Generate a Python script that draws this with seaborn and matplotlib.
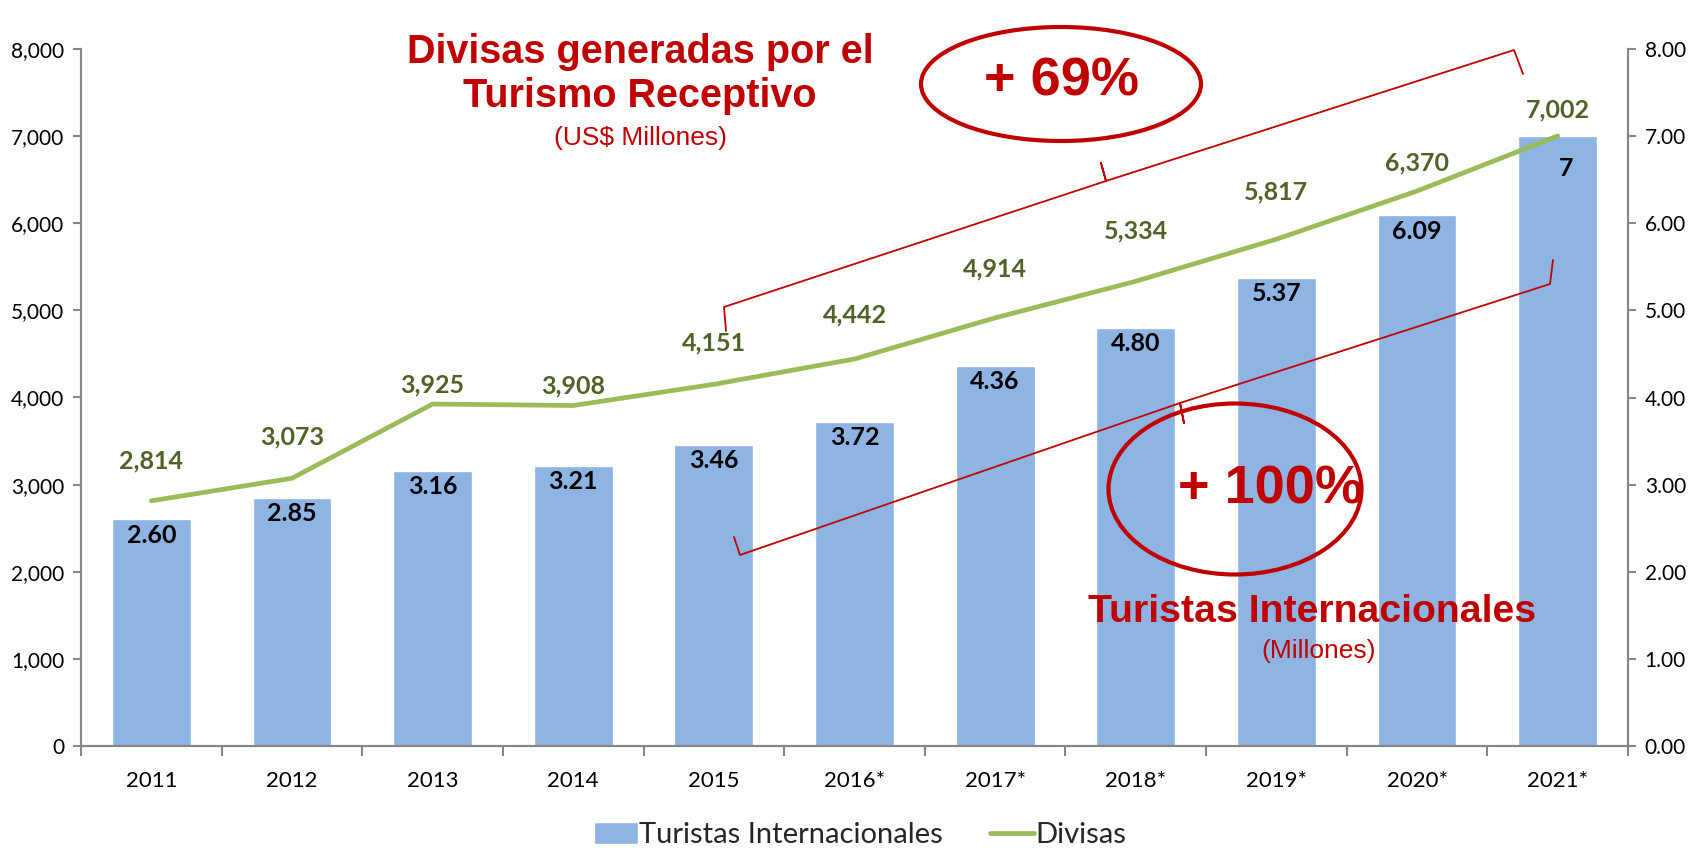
import numpy as np
import pandas as pd
import matplotlib
matplotlib.use("Agg")
import matplotlib.pyplot as plt
from matplotlib.patches import Ellipse
from matplotlib.lines import Line2D
import seaborn as sns

# ---------------- data ----------------
years = ["2011", "2012", "2013", "2014", "2015", "2016*", "2017*", "2018*", "2019*", "2020*", "2021*"]
turistas = [2.60, 2.85, 3.16, 3.21, 3.46, 3.72, 4.36, 4.80, 5.37, 6.09, 7.00]
turistas_lbl = ["2.60", "2.85", "3.16", "3.21", "3.46", "3.72", "4.36", "4.80", "5.37", "6.09", "7"]
divisas = [2814, 3073, 3925, 3908, 4151, 4442, 4914, 5334, 5817, 6370, 7002]
left_ticks = [0, 1000, 2000, 3000, 4000, 5000, 6000, 7000, 8000]
right_ticks = [0, 1, 2, 3, 4, 5, 6, 7, 8]

# styling
BAR = "#8EB4E3"
LINE = "#9BBB59"
LBL_GREEN = "#4F6228"
RED = "#C00000"
AX_GRAY = "#868686"
lbl_off = [29, 30, 14, 14, 30, 32, 35, 36, 34, 20, 19]          # line label offsets (pt)
bar_off = [(0, -3)] * 10 + [(6, -15)]                             # bar label offsets (pt)

sns.set_theme(style="white")
plt.rcParams["font.family"] = ["Lato", "DejaVu Sans"]
NARROW = ["Liberation Sans Narrow", "Liberation Sans", "DejaVu Sans"]

W, H = 1700, 848
fig = plt.figure(figsize=(17, 8.48), dpi=100)
ax = fig.add_axes([81 / W, 1 - 746 / H, (1628 - 81) / W, (746 - 49) / H])

df = pd.DataFrame({"year": years, "turistas": turistas, "divisas": divisas})
x = np.arange(len(years))

# bars (right axis scale)
sns.barplot(data=df, x="year", y="turistas", color=BAR, saturation=1, width=0.56,
            ax=ax, label="Turistas Internacionales")
ax.set_ylim(0, 8)
ax.set_xlim(-0.5, len(years) - 0.5)
for i, (v, t) in enumerate(zip(turistas, turistas_lbl)):
    ax.annotate(t, (i, v), xytext=bar_off[i], textcoords="offset points",
                ha="center", va="top", fontsize=18, fontweight="bold", color="black")

# line (left axis scale)
ax2 = ax.twinx()
sns.lineplot(x=x, y=divisas, ax=ax2, color=LINE, linewidth=3.4, sort=False,
             label="Divisas", legend=False)
ax2.set_ylim(0, 8000)
for i, v in enumerate(divisas):
    ax2.annotate(f"{v:,}", (i, v), xytext=(0, lbl_off[i]), textcoords="offset points",
                 ha="center", va="center", fontsize=18, fontweight="bold", color=LBL_GREEN)

# axis placement: bars axis ticks to right, line axis ticks to left
ax.yaxis.tick_right()
ax.yaxis.set_label_position("right")
ax2.yaxis.tick_left()
ax2.yaxis.set_label_position("left")
ax.set_yticks(right_ticks)
ax.set_yticklabels([f"{v:.2f}" for v in right_ticks])
ax2.set_yticks(left_ticks)
ax2.set_yticklabels([f"{v:,}" for v in left_ticks])
ax.set_ylabel("")
ax.set_xlabel("")
ax2.set_ylabel("")

ax.set_xticks(x)
ax.set_xticklabels(years)
ax.set_xticks(np.arange(-0.5, len(years), 1.0), minor=True)
ax.tick_params(axis="x", which="major", length=0, labelsize=16, pad=18, colors="black")
ax.tick_params(axis="x", which="minor", length=7, width=1.5, color=AX_GRAY, direction="out", bottom=True)
ax.tick_params(axis="y", length=6, width=1.5, color=AX_GRAY, labelsize=15, labelcolor="black",
               right=True, left=False, direction="out", pad=6)
ax2.tick_params(axis="y", length=6, width=1.5, color=AX_GRAY, labelsize=15, labelcolor="black",
                left=True, right=False, direction="out", pad=6)

for a in (ax, ax2):
    for s in ("left", "right", "bottom"):
        a.spines[s].set_color(AX_GRAY)
        a.spines[s].set_linewidth(1.5)
        a.spines[s].set_visible(True)
    a.spines["top"].set_visible(False)
    a.grid(False)

# legend
h1, l1 = ax.get_legend_handles_labels()
h2, l2 = ax2.get_legend_handles_labels()
if ax.get_legend() is not None:
    ax.get_legend().remove()
fig.legend(h1 + h2, l1 + l2, loc="center", bbox_to_anchor=(860 / W, 1 - 835 / H),
           ncol=2, frameon=False, fontsize=21, handlelength=1.5, handleheight=0.8,
           columnspacing=1.6, handletextpad=0.05)

# ---------------- annotations ----------------
def fx(px):
    return px / W

def fy(py):
    return 1 - py / H

fig.text(fx(640), fy(52), "Divisas generadas por el", ha="center", va="center",
         fontsize=28.5, fontweight="bold", color=RED, family=NARROW)
fig.text(fx(640), fy(96), "Turismo Receptivo", ha="center", va="center",
         fontsize=28.5, fontweight="bold", color=RED, family=NARROW)
fig.text(fx(640), fy(138), "(US$ Millones)", ha="center", va="center",
         fontsize=19, color=RED, family=NARROW)

fig.text(fx(1312), fy(612), "Turistas Internacionales", ha="center", va="center",
         fontsize=28.3, fontweight="bold", color=RED, family=NARROW)
fig.text(fx(1319), fy(651), "(Millones)", ha="center", va="center",
         fontsize=19, color=RED, family=NARROW)

fig.patches.append(Ellipse((fx(1061), fy(84)), 280 / W, 114 / H, transform=fig.transFigure,
                           fill=False, edgecolor=RED, linewidth=3.0))
fig.text(fx(1061), fy(82), "+ 69%", ha="center", va="center",
         fontsize=39, fontweight="bold", color=RED, family=NARROW)

fig.patches.append(Ellipse((fx(1235), fy(489)), 253 / W, 171 / H, transform=fig.transFigure,
                           fill=False, edgecolor=RED, linewidth=3.0))
fig.text(fx(1270), fy(489), "+ 100%", ha="center", va="center",
         fontsize=39, fontweight="bold", color=RED, family=NARROW)

# braces
upper = [(726, 331), (724, 307), (1106, 181), (1101, 163), (1106, 181), (1514, 50), (1523, 74)]
lower = [(734, 537), (740, 555), (1180, 403), (1184, 423), (1180, 403), (1550, 284), (1553, 260)]
for pts in (upper, lower):
    xs = [fx(p[0]) for p in pts]
    ys = [fy(p[1]) for p in pts]
    fig.lines.append(Line2D(xs, ys, transform=fig.transFigure, color=RED, linewidth=1.3))

fig.savefig("out.png", dpi=100)
